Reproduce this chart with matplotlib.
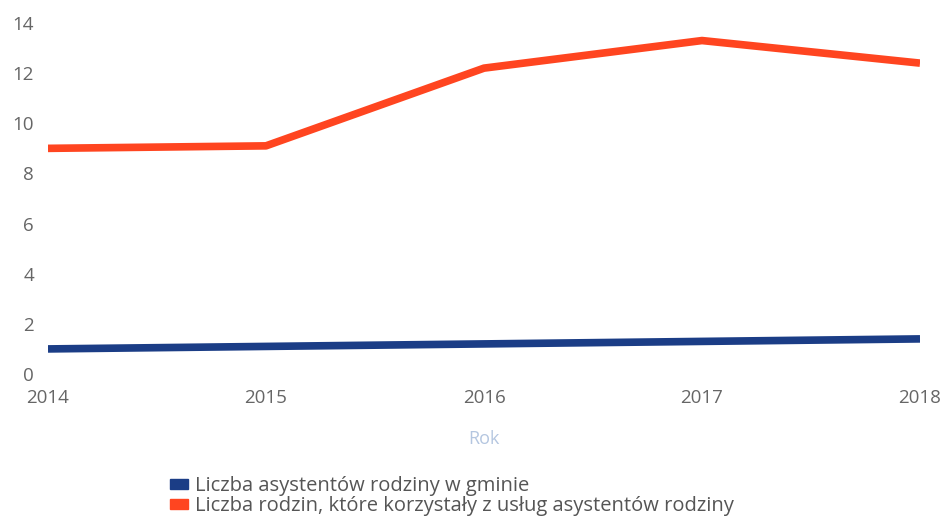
import matplotlib
matplotlib.use("Agg")
import matplotlib.pyplot as plt
from matplotlib.patches import Patch

years = [2014, 2015, 2016, 2017, 2018]
asystenci = [1.0, 1.1, 1.2, 1.3, 1.4]
rodziny = [9.0, 9.1, 12.2, 13.3, 12.4]
labels = ["Liczba asystentów rodziny w gminie",
          "Liczba rodzin, które korzystały z usług asystentów rodziny"]
yticks = [0, 2, 4, 6, 8, 10, 12, 14]

blue = "#1b3d86"
red = "#ff4520"

plt.rcParams['font.family'] = ['Open Sans', 'DejaVu Sans']
fig = plt.figure(figsize=(9.46, 5.19), dpi=100)
ax = fig.add_axes([48/946, 1-374/519, (920-48)/946, (374-23)/519])

ax.plot(years, asystenci, color=blue, lw=5.5, solid_capstyle='butt')
ax.plot(years, rodziny, color=red, lw=5.5, solid_capstyle='butt')

ax.set_xlim(2014, 2018)
ax.set_ylim(0, 14)
ax.set_xticks(years)
ax.set_xticklabels([str(y) for y in years])
ax.set_yticks(yticks)
for s in ax.spines.values():
    s.set_visible(False)
ax.tick_params(axis='both', length=0, labelsize=13.5, labelcolor='#666666')
ax.tick_params(axis='y', pad=10)
ax.tick_params(axis='x', pad=11)
ax.set_xlabel("Rok", color='#b4c6e0', fontsize=13, labelpad=16)

handles = [Patch(color=blue), Patch(color=red)]
fig.legend(handles, labels, loc='upper left', bbox_to_anchor=(170/946, 1-476/519),
           frameon=False, fontsize=14.5, labelcolor='#555555',
           handlelength=0.9, handleheight=0.35, handletextpad=0.35,
           labelspacing=0.0, borderpad=0, borderaxespad=0)

fig.savefig("out.png", dpi=100)
